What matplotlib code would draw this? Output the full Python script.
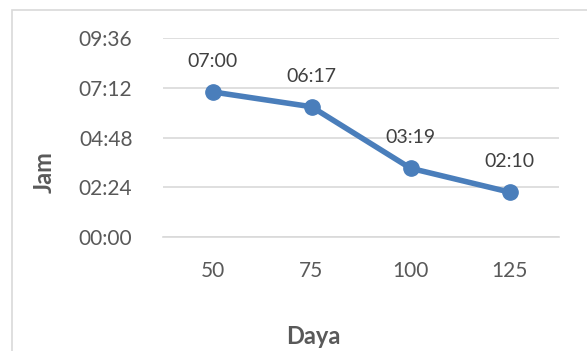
import matplotlib.pyplot as plt
from matplotlib.patches import Rectangle
from matplotlib.ticker import FuncFormatter, MultipleLocator

plt.rcParams['font.family'] = ['Lato', 'DejaVu Sans']

daya = ['50', '75', '100', '125']
jam = ['07:00', '06:17', '03:19', '02:10']


def to_hours(s):
    h, m = s.split(':')
    return int(h) + int(m) / 60


def fmt_hm(v, pos):
    total = int(round(v * 60))
    return '%02d:%02d' % (total // 60, total % 60)


hours = [to_hours(s) for s in jam]
x = range(len(daya))

fig = plt.figure(figsize=(5.87, 3.51), dpi=100)
# chart frame
fig.patches.append(Rectangle((12 / 587, -0.1), 1.2, 1 - 10 / 351 + 0.1,
                             transform=fig.transFigure, fill=False,
                             edgecolor='#d9d9d9', linewidth=1.2))

ax = fig.add_axes([163 / 587, 1 - 237 / 351, 396 / 587, 199 / 351])
ax.plot(x, hours, color='#4a7ebb', linewidth=4, marker='o',
        markersize=11, zorder=3)
for i, (h, s) in enumerate(zip(hours, jam)):
    ax.annotate(s, (i, h), xytext=(0, 16), textcoords='offset points',
                ha='center', va='bottom', fontsize=14, color='#404040')

ax.set_xlim(-0.5, len(daya) - 0.5)
ax.set_ylim(0, 9.6)
ax.yaxis.set_major_locator(MultipleLocator(2.4))
ax.yaxis.set_major_formatter(FuncFormatter(fmt_hm))
ax.set_xticks(list(x))
ax.set_xticklabels(daya)
ax.grid(axis='y', color='#d9d9d9', linewidth=1.2)
ax.set_axisbelow(True)
for side in ['top', 'right', 'left']:
    ax.spines[side].set_visible(False)
ax.spines['bottom'].set_color('#d9d9d9')
ax.spines['bottom'].set_linewidth(1.2)
ax.tick_params(length=0, labelsize=15, labelcolor='#595959')
ax.tick_params(axis='y', pad=22)
ax.tick_params(axis='x', pad=17)

# axis titles sit centred on the chart frame rather than the plot area
ax.set_xlabel('Daya', fontsize=17, fontweight='bold', color='#595959')
ax.xaxis.set_label_coords(0.379, -0.44)
ax.set_ylabel('Jam', fontsize=17, fontweight='bold', color='#595959')
ax.yaxis.set_label_coords(-0.27, 0.327)

fig.savefig('out.png', dpi=100)
